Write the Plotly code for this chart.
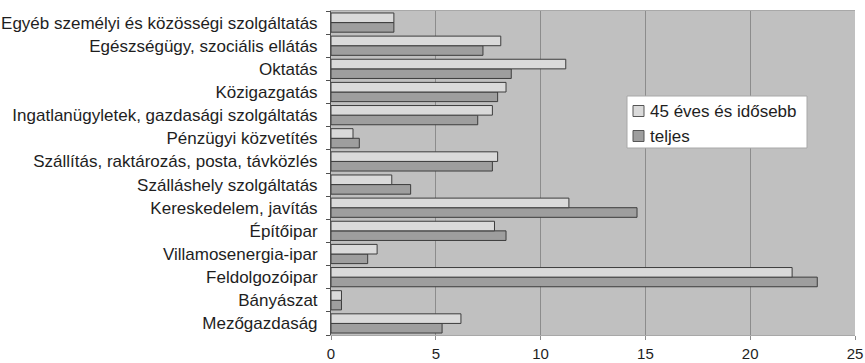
import plotly.graph_objects as go

# Ágazatok (alulról felfelé)
categories = [
    "Mezőgazdaság",
    "Bányászat",
    "Feldolgozóipar",
    "Villamosenergia-ipar",
    "Építőipar",
    "Kereskedelem, javítás",
    "Szálláshely szolgáltatás",
    "Szállítás, raktározás, posta, távközlés",
    "Pénzügyi közvetítés",
    "Ingatlanügyletek, gazdasági szolgáltatás",
    "Közigazgatás",
    "Oktatás",
    "Egészségügy, szociális ellátás",
    "Egyéb személyi és közösségi szolgáltatás",
]

idosebb_45 = [6.2, 0.5, 22.0, 2.2, 7.8, 11.35, 2.9, 7.95, 1.05, 7.7, 8.35, 11.2, 8.1, 3.0]
teljes = [5.3, 0.5, 23.2, 1.75, 8.35, 14.6, 3.8, 7.7, 1.35, 7.0, 7.95, 8.6, 7.25, 3.0]

x_ticks = [0, 5, 10, 15, 20, 25]

series_names = ["45 éves és idősebb", "teljes"]
series_colors = ["#dadada", "#9e9e9e"]

font_family = "Liberation Sans, Arial, sans-serif"
text_color = "#1e1e1e"
outline_color = "#3c3c3c"
outline = dict(color=outline_color, width=1)

W, H = 865, 363
M_L, M_R, M_T, M_B = 331, 10, 11, 28
PW, PH = W - M_L - M_R, H - M_T - M_B


def px_x(p):
    """Pixel column -> paper x."""
    return (p - M_L) / PW


def px_y(p):
    """Pixel row (from top) -> paper y."""
    return (H - M_B - p) / PH


fig = go.Figure()
# grouped horizontal bars: first trace sits lower within each category
fig.add_trace(go.Bar(
    y=categories, x=teljes, orientation="h", name=series_names[1],
    marker=dict(color=series_colors[1], line=outline),
))
fig.add_trace(go.Bar(
    y=categories, x=idosebb_45, orientation="h", name=series_names[0],
    marker=dict(color=series_colors[0], line=outline),
))

# legend box drawn in the plot area
shapes = [dict(
    type="rect", xref="paper", yref="paper",
    x0=px_x(627), x1=px_x(807), y0=px_y(148), y1=px_y(96),
    fillcolor="white", line=dict(color="#a8a8a8", width=1), layer="above",
)]
annotations = []
for i, (name, col) in enumerate(zip(series_names, series_colors)):
    cy = 111 + i * 25
    shapes.append(dict(
        type="rect", xref="paper", yref="paper",
        x0=px_x(633), x1=px_x(644), y0=px_y(cy + 5.5), y1=px_y(cy - 5.5),
        fillcolor=col, line=dict(color="#555555", width=1), layer="above",
    ))
    annotations.append(dict(
        xref="paper", yref="paper", x=px_x(648), y=px_y(cy),
        xanchor="left", yanchor="middle", text=name, showarrow=False,
        font=dict(family=font_family, size=17, color=text_color),
    ))

fig.update_layout(
    width=W, height=H,
    margin=dict(l=M_L, r=M_R, t=M_T, b=M_B, autoexpand=False),
    paper_bgcolor="white",
    plot_bgcolor="#c0c0c0",
    barmode="group",
    bargap=0.17,
    bargroupgap=0,
    font=dict(family=font_family, size=17, color=text_color),
    showlegend=False,
    shapes=shapes,
    annotations=annotations,
    xaxis=dict(
        range=[0, 25], tickvals=x_ticks, ticktext=[str(v) for v in x_ticks],
        showgrid=True, gridcolor="#8c8c8c", gridwidth=1,
        zeroline=False, showline=True, linecolor="#a8a8a8", linewidth=1,
        mirror=True, ticks="outside", ticklen=4, tickcolor="#8c8c8c",
        ticklabelstandoff=1, fixedrange=True, automargin=False,
        tickfont=dict(size=15),
    ),
    yaxis=dict(
        type="category", categoryorder="array", categoryarray=categories,
        showgrid=False, zeroline=False,
        showline=True, linecolor="#505050", linewidth=1,
        ticks="outside", tickson="boundaries", ticklen=4, tickcolor="#505050",
        ticklabelstandoff=9, automargin=False,
        tickfont=dict(size=17),
    ),
)

fig.write_html("out.html")
